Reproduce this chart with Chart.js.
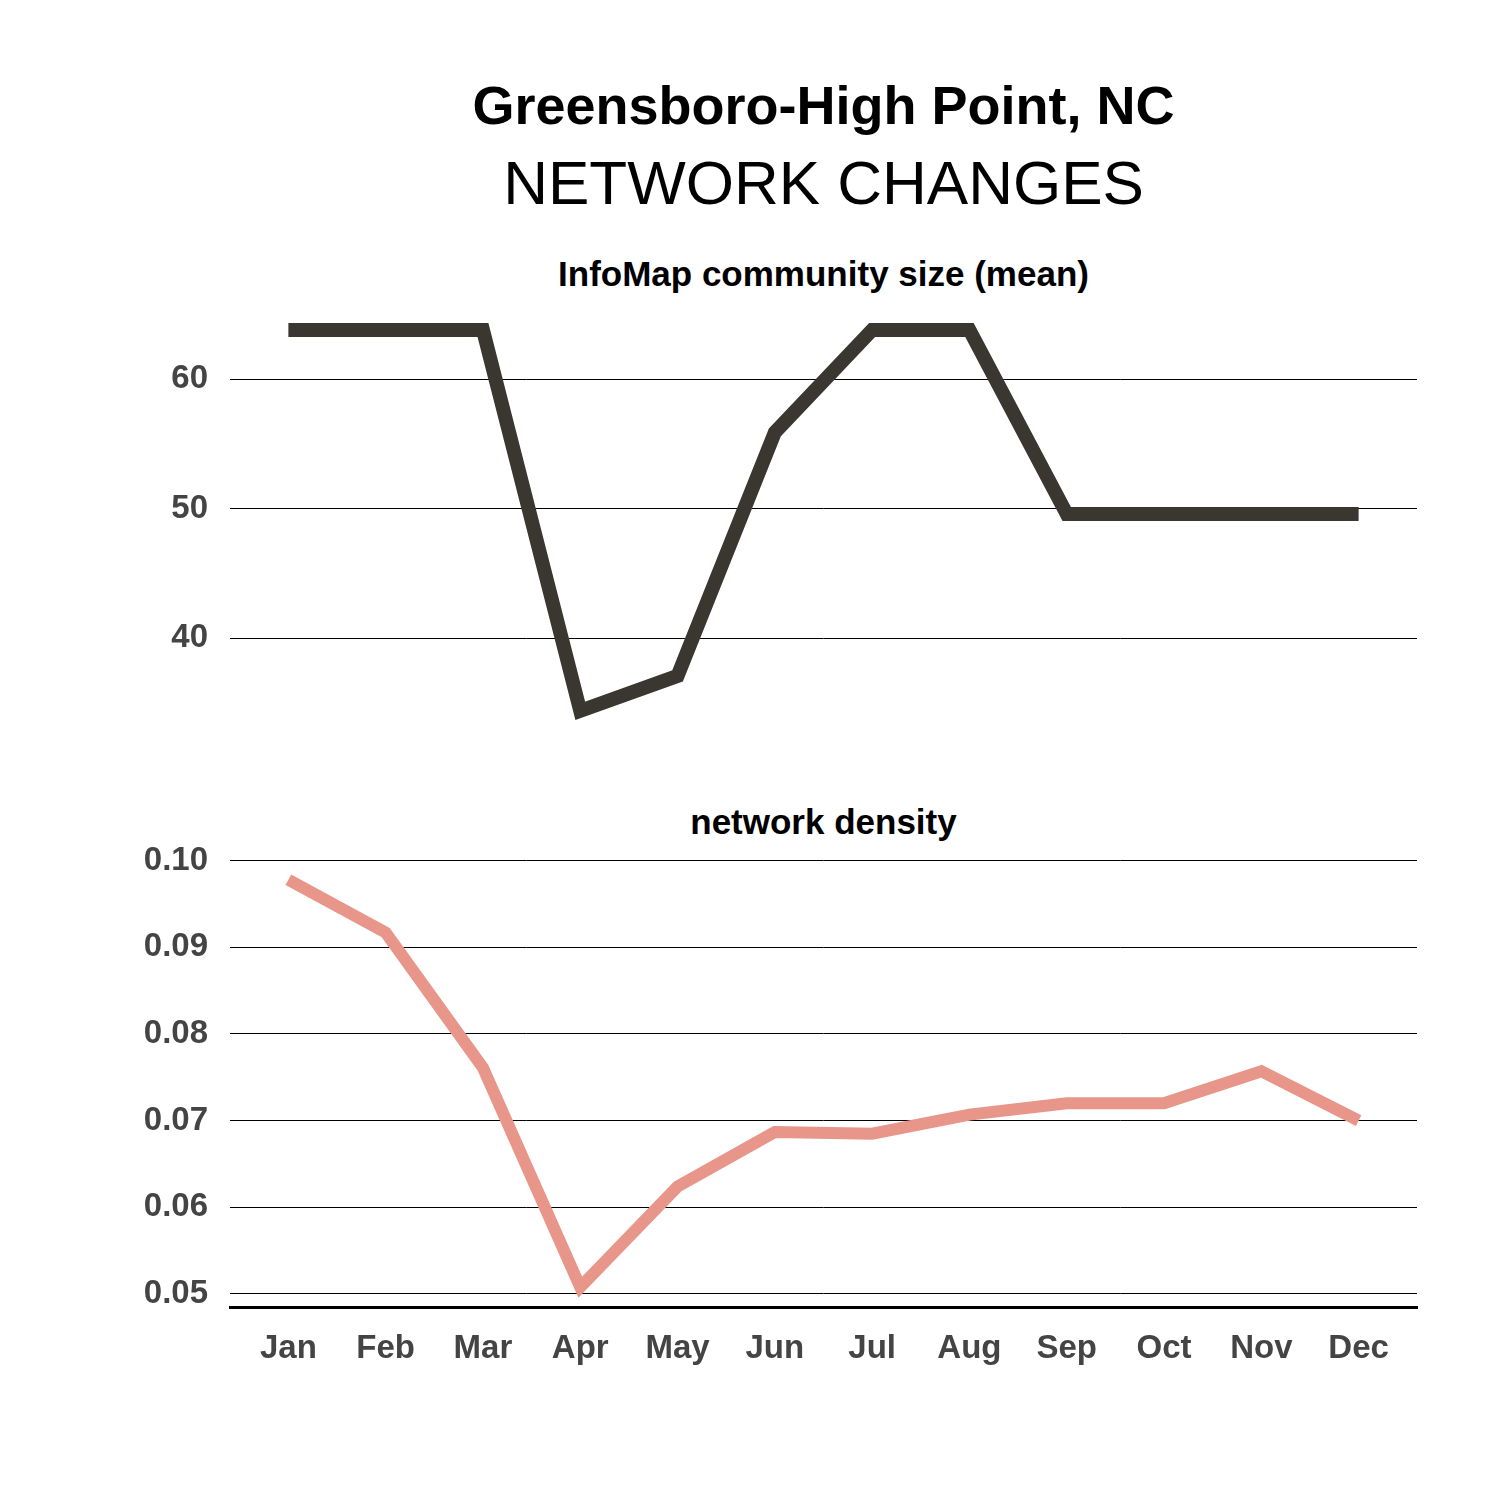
<!DOCTYPE html>
<html>
<head>
<meta charset="utf-8">
<script src="https://cdn.jsdelivr.net/npm/chart.js@4"></script>
<style>
  body { margin: 0; background: #fff; font-family: "Liberation Sans", Arial, sans-serif; }
  #page { position: relative; width: 1500px; height: 1500px; }
  .t { position: absolute; left: 230px; width: 1187px; text-align: center; color: #000; line-height: 1; }
  .w { position: absolute; left: 0; width: 1500px; }
</style>
</head>
<body>
<div id="page">
  <div class="t" style="top:78px;font-size:54px;font-weight:bold;">Greensboro-High Point, NC</div>
  <div class="t" style="top:152px;font-size:62px;">NETWORK CHANGES</div>
  <div class="t" style="top:256px;font-size:35px;font-weight:bold;">InfoMap community size (mean)</div>
  <div class="t" style="top:804px;font-size:35px;font-weight:bold;">network density</div>
  <div class="w" style="top:271px;height:495px;"><canvas id="top"></canvas></div>
  <div class="w" style="top:821px;height:549px;"><canvas id="bottom"></canvas></div>
</div>
<script>
const months = ["Jan", "Feb", "Mar", "Apr", "May", "Jun", "Jul", "Aug", "Sep", "Oct", "Nov", "Dec"];
const communitySize = [63.8, 63.8, 63.8, 34.4, 37.1, 55.9, 63.8, 63.8, 49.6, 49.6, 49.6, 49.6];
const density = [0.0978, 0.0917, 0.0761, 0.0508, 0.0624, 0.0687, 0.0685, 0.0707, 0.072, 0.072, 0.0757, 0.07];
const sizeTicks = [40, 50, 60];
const densityTicks = [0.05, 0.06, 0.07, 0.08, 0.09, 0.10];

const tickFont = { family: "Liberation Sans", size: 33, weight: "bold" };

function makeChart(id, values, color, width, yMin, yMax, yTicks, decimals, showX) {
    return new Chart(document.getElementById(id), {
        type: 'line',
        data: {
            datasets: [{
                data: values.map((v, i) => ({ x: i, y: v })),
                borderColor: color,
                borderWidth: width,
                pointRadius: 0,
                tension: 0,
                borderCapStyle: 'butt'
            }]
        },
        options: {
            responsive: true,
            maintainAspectRatio: false,
            animation: false,
            layout: { padding: { left: 0, right: 83, top: 0, bottom: 0 } },
            plugins: { legend: { display: false }, tooltip: { enabled: false } },
            scales: {
                x: {
                    type: 'linear',
                    min: -0.6,
                    max: 11.6,
                    display: showX,
                    afterBuildTicks: s => { s.ticks = months.map((m, i) => ({ value: i })); },
                    afterFit: s => { s.height = showX ? 63 : 0; },
                    ticks: { callback: v => months[v], color: '#444', font: tickFont, padding: 22, maxRotation: 0 },
                    grid: { display: false, drawTicks: false },
                    border: { display: true, color: '#000', width: 3 }
                },
                y: {
                    min: yMin,
                    max: yMax,
                    afterBuildTicks: s => { s.ticks = yTicks.map(v => ({ value: v })); },
                    afterFit: s => { s.width = 230; },
                    ticks: { callback: v => v.toFixed(decimals), color: '#444', font: tickFont, padding: 12 },
                    grid: { color: '#000', lineWidth: 1, drawTicks: true, tickLength: 10, tickColor: 'rgba(0,0,0,0)' },
                    border: { display: false }
                }
            }
        }
    });
}

makeChart('top', communitySize, '#3a3730', 14, 32.6, 65.9, sizeTicks, 0, false);
makeChart('bottom', density, '#e8958a', 12, 0.0485, 0.1009, densityTicks, 2, true);
</script>
</body>
</html>
